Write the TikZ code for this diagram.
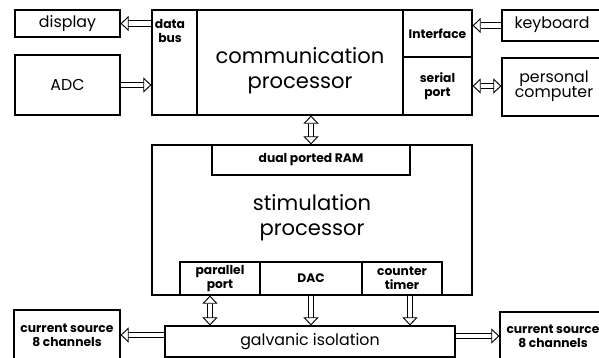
\documentclass[tikz,border=0pt]{standalone}
\usepackage{fontspec}
\setmainfont{Poppins}
\usetikzlibrary{arrows.meta, positioning, calc}

\begin{document}
\begin{tikzpicture}[x=0.03cm, y=-0.03cm,
  blk/.style={draw, line width=0.9pt, inner sep=0pt},
  bigtxt/.style={font=\fontsize{18}{21}\selectfont, align=center},
  midtxt/.style={font=\fontsize{13.5}{13}\selectfont, align=center},
  smalltxt/.style={font=\fontsize{10.5}{12}\selectfont\bfseries, align=center},
  bus/.style={double, double distance=3.6pt, line width=0.8pt, -{Triangle[open, length=7pt, width=13pt]}},
  busboth/.style={bus, {Triangle[open, length=7pt, width=13pt]}-{Triangle[open, length=7pt, width=13pt]}}]
\useasboundingbox (0,0) rectangle (599,357);
% communication processor
\node[blk, minimum width=9.6cm, minimum height=3.15cm] (comm) at (312,62.5) {};
\node[blk, minimum width=1.35cm, minimum height=3.15cm] (dbus) at (174.5,62.5) {};
\node[smalltxt] (dbustxt) at (170,31) {data\\bus};
\node[blk, smalltxt, minimum width=2.07cm, minimum height=1.41cm] (iface) at (437.5,33.5) {Interface};
\node[blk, smalltxt, minimum width=2.07cm, minimum height=1.74cm] (serial) at (437.5,86) {serial\\port};
\node[bigtxt] (commtxt) at (300,71) {communication\\processor};
% peripherals
\node[blk, midtxt, minimum width=3.15cm, minimum height=0.81cm] (display) at (67.5,23.5) {display};
\node[blk, midtxt, minimum width=3.15cm, minimum height=1.8cm] (adc) at (67.5,85) {ADC};
\node[blk, midtxt, minimum width=3.6cm, minimum height=0.93cm, text depth=0pt] (kbd) at (562,25.5) {};
\node[midtxt] (kbdtxt) at (552,25) {keyboard};
\node[blk, midtxt, minimum width=3.6cm, minimum height=1.74cm] (pc) at (562,87) {};
\node[midtxt] (pctxt) at (554,86) {personal\\computer};
% stimulation processor
\node[blk, minimum width=9.6cm, minimum height=4.5cm] (stim) at (312,220) {};
\node[blk, smalltxt, minimum width=5.94cm, minimum height=0.9cm] (ram) at (311,160) {dual ported RAM};
\node[bigtxt] (stimtxt) at (312,218) {stimulation\\processor};
\node[blk, smalltxt, minimum width=2.4cm, minimum height=0.99cm] (par) at (220,278.5) {parallel\\port};
\node[blk, smalltxt, minimum width=3.06cm, minimum height=0.99cm] (dac) at (311,278.5) {DAC};
\node[blk, smalltxt, minimum width=2.4cm, minimum height=0.99cm] (ctr) at (402,278.5) {counter\\timer};
% output stage
\node[blk, midtxt, minimum width=8.7cm, minimum height=0.93cm] (galv) at (310,341.5) {galvanic isolation};
\node[blk, smalltxt, minimum width=3.18cm, minimum height=1.5cm] (csl) at (67,335) {current source\\8 channels};
\node[blk, minimum width=3.6cm, minimum height=1.44cm] (csr) at (560,336) {};
\node[smalltxt] (csrtxt) at (553,336) {current source\\8 channels};
% connectors
\draw[bus] (display.east -| dbus.west) -- (display.east);
\draw[bus] (adc.east) -- (adc.east -| dbus.west);
\draw[bus] (kbd.west) -- (kbd.west -| iface.east);
\draw[busboth] (serial.east) -- (serial.east -| pc.west);
\draw[busboth] (ram.north |- comm.south) -- (ram.north);
\draw[busboth] ([xshift=-0.3cm]par.south) -- ([xshift=-0.3cm]par.south |- galv.north);
\draw[bus] (dac.south) -- (dac.south |- galv.north);
\draw[bus] ([xshift=0.24cm]ctr.south) -- ([xshift=0.24cm]ctr.south |- galv.north);
\draw[bus] (galv.west |- csl.east) -- (csl.east);
\draw[bus] (galv.east |- csr.west) -- (csr.west);
\end{tikzpicture}
\end{document}
